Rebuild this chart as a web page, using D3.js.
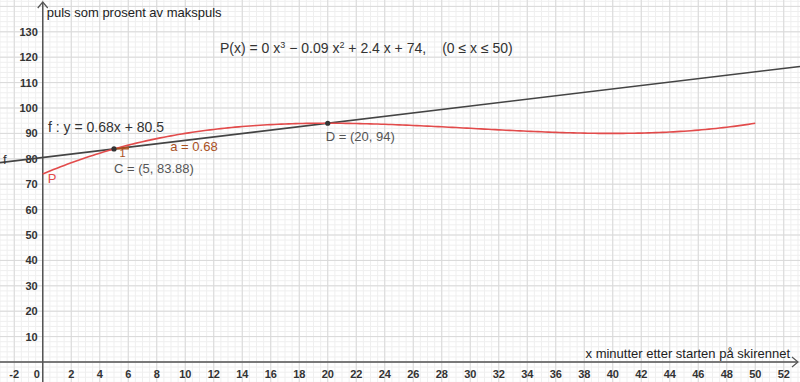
<!DOCTYPE html>
<html>
<head>
<meta charset="utf-8">
<script src="https://cdn.jsdelivr.net/npm/d3@7"></script>
<style>
  body { margin: 0; background: #fff; }
  svg { display: block; font-family: "Liberation Sans", Arial, sans-serif; }
</style>
</head>
<body>
<div id="chart"></div>
<script>
'use strict';

// chart data
const xTicks = [-2, 0, 2, 4, 6, 8, 10, 12, 14, 16, 18, 20, 22, 24, 26, 28, 30, 32, 34, 36, 38, 40, 42, 44, 46, 48, 50, 52];
const yTicks = [10, 20, 30, 40, 50, 60, 70, 80, 90, 100, 110, 120, 130];
const polyCoeffs = [0.001, -0.09, 2.4, 74];   // x^3, x^2, x, 1
const polyDomain = [0, 50];
const lineCoeffs = [0.675, 80.5];              // slope, intercept
const pointNames = ['C', 'D'];
const pointX = [5, 20];
const pointY = [83.875, 94];
const xLabel = 'x minutter etter starten på skirennet';
const yLabel = 'puls som prosent av makspuls';

const width = 800, height = 382;

const svg = d3.select('#chart').append('svg').attr('width', width).attr('height', height);

// scales, picked so that origin sits at about (42.7, 362)
const x = d3.scaleLinear().domain([-3, 53.14]).range([0, width]);
const y = d3.scaleLinear().domain([-7.87, 142.52]).range([height, 0]);

//grid - minor then major
const minorX = d3.range(-3, 53.5, 0.5);
const minorY = d3.range(-8, 143, 2);
const majorX = d3.range(-2, 54, 2);
const majorY = d3.range(0, 150, 10);

svg.append('g').selectAll('line').data(minorX).join('line')
  .attr('x1', d => x(d)).attr('x2', d => x(d)).attr('y1', 0).attr('y2', height)
  .attr('stroke', '#efefef').attr('stroke-width', 1);
svg.append('g').selectAll('line').data(minorY).join('line')
  .attr('y1', d => y(d)).attr('y2', d => y(d)).attr('x1', 0).attr('x2', width)
  .attr('stroke', '#efefef').attr('stroke-width', 1);
svg.append('g').selectAll('line').data(majorX).join('line')
  .attr('x1', d => x(d)).attr('x2', d => x(d)).attr('y1', 0).attr('y2', height)
  .attr('stroke', '#d9d9d9').attr('stroke-width', 1);
svg.append('g').selectAll('line').data(majorY).join('line')
  .attr('y1', d => y(d)).attr('y2', d => y(d)).attr('x1', 0).attr('x2', width)
  .attr('stroke', '#d9d9d9').attr('stroke-width', 1);

// axes
const axisColor = '#555';
svg.append('line').attr('x1', 0).attr('x2', width - 2).attr('y1', y(0)).attr('y2', y(0))
  .attr('stroke', axisColor).attr('stroke-width', 1.5);
svg.append('line').attr('x1', x(0)).attr('x2', x(0)).attr('y1', 2).attr('y2', height)
  .attr('stroke', axisColor).attr('stroke-width', 1.5);
// arrow heads
svg.append('path').attr('d', `M${width - 8},${y(0) - 5}L${width - 2},${y(0)}L${width - 8},${y(0) + 5}`)
  .attr('fill', 'none').attr('stroke', axisColor).attr('stroke-width', 1.2);
svg.append('path').attr('d', `M${x(0) - 5},8L${x(0)},2L${x(0) + 5},8`)
  .attr('fill', 'none').attr('stroke', axisColor).attr('stroke-width', 1.2);

// tick labels
svg.append('g').selectAll('text').data(xTicks).join('text')
  .attr('x', d => d === 0 ? x(0) - 6 : x(d))
  .attr('y', y(0) + 16)
  .attr('text-anchor', 'middle')
  .attr('font-size', 11).attr('font-weight', 'bold').attr('fill', '#333')
  .text(d => d);
svg.append('g').selectAll('text').data(yTicks).join('text')
  .attr('x', x(0) - 5)
  .attr('y', d => y(d) + 4)
  .attr('text-anchor', 'end')
  .attr('font-size', 11).attr('font-weight', 'bold').attr('fill', '#333')
  .text(d => d);

// axis titles
svg.append('text').attr('x', x(0) + 4).attr('y', 17).attr('font-size', 13).attr('fill', '#222').text(yLabel);
svg.append('text').attr('x', width - 10).attr('y', y(0) - 4).attr('text-anchor', 'end')
  .attr('font-size', 13).attr('fill', '#222').text(xLabel);

// line f
const fLine = v => lineCoeffs[0] * v + lineCoeffs[1];
const xd = x.domain();
svg.append('line')
  .attr('x1', x(xd[0])).attr('y1', y(fLine(xd[0])))
  .attr('x2', x(xd[1])).attr('y2', y(fLine(xd[1])))
  .attr('stroke', '#444').attr('stroke-width', 1.6);

// curve P
const P = v => polyCoeffs[0] * v * v * v + polyCoeffs[1] * v * v + polyCoeffs[2] * v + polyCoeffs[3];
const xs = d3.range(polyDomain[0], polyDomain[1] + 0.001, 0.25);
const curve = d3.line().x(d => x(d)).y(d => y(P(d)));
svg.append('path').attr('d', curve(xs)).attr('fill', 'none')
  .attr('stroke', '#e24b4b').attr('stroke-width', 1.6);

// slope triangle at C
const brown = '#a8501e';
const tri = [[pointX[0], pointY[0]], [pointX[0] + 1, pointY[0]], [pointX[0] + 1, pointY[0] + lineCoeffs[0]]];
svg.append('path').attr('d', d3.line().x(d => x(d[0])).y(d => y(d[1]))(tri) + 'Z')
  .attr('fill', brown).attr('fill-opacity', 0.1).attr('stroke', brown).attr('stroke-width', 1.2);
svg.append('text').attr('x', x(pointX[0] + 0.6)).attr('y', y(pointY[0]) + 8)
  .attr('text-anchor', 'middle').attr('font-size', 11).attr('fill', brown).text('1');
svg.append('text').attr('x', x(8.95)).attr('y', y(pointY[0]) + 2)
  .attr('font-size', 13).attr('fill', brown).text('a = 0.68');

// points
svg.append('g').selectAll('circle').data(pointX).join('circle')
  .attr('cx', d => x(d)).attr('cy', (d, i) => y(pointY[i])).attr('r', 2.6).attr('fill', '#333');
svg.append('text').attr('x', x(pointX[0])).attr('y', y(pointY[0]) + 24)
  .attr('font-size', 13).attr('fill', '#555').text(`${pointNames[0]} = (${pointX[0]}, 83.88)`);
svg.append('text').attr('x', x(pointX[1]) - 2).attr('y', y(pointY[1]) + 18)
  .attr('font-size', 13).attr('fill', '#555').text(`${pointNames[1]} = (${pointX[1]}, ${pointY[1]})`);

// function labels
svg.append('text').attr('x', 48).attr('y', y(fLine(0)) - 26)
  .attr('font-size', 14).attr('fill', '#333').text('f : y = 0.68x + 80.5');
svg.append('text').attr('x', 3).attr('y', y(fLine(-3)) + 1)
  .attr('font-size', 13).attr('fill', '#333').text('f');
svg.append('text').attr('x', x(0.35)).attr('y', y(P(0)) + 9)
  .attr('font-size', 13).attr('fill', '#e24b4b').text('P');

// equation
const eq = svg.append('text').attr('x', 220).attr('y', 53).attr('font-size', 14).attr('fill', '#333');
eq.append('tspan').text('P(x) = 0 x');
eq.append('tspan').attr('dy', -5).attr('font-size', 9).text('3');
eq.append('tspan').attr('dy', 5).text(' − 0.09 x');
eq.append('tspan').attr('dy', -5).attr('font-size', 9).text('2');
eq.append('tspan').attr('dy', 5).text(' + 2.4 x + 74,');
eq.append('tspan').attr('dx', 16).text('(0 ≤ x ≤ 50)');
</script>
</body>
</html>
